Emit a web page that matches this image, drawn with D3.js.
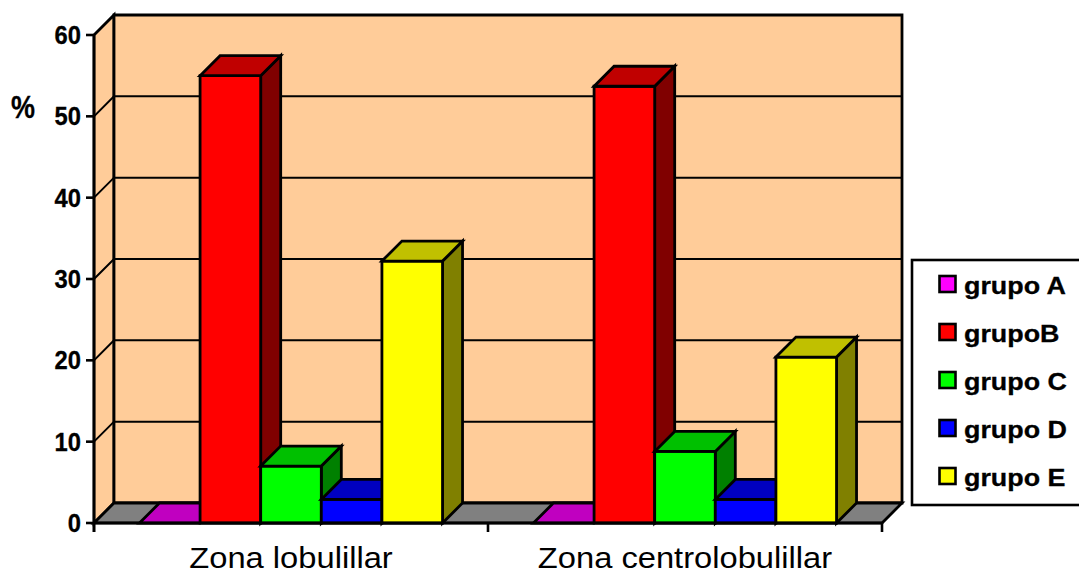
<!DOCTYPE html>
<html><head><meta charset="utf-8">
<script src="https://cdn.jsdelivr.net/npm/d3@7"></script>
<style>html,body{margin:0;padding:0;background:#fff}svg{display:block;font-family:"Liberation Sans",Arial,sans-serif}</style>
</head><body><svg id="c" width="1079" height="571"></svg>
<script>
const categories = ["Zona lobulillar", "Zona centrolobulillar"];
const seriesNames = ["grupo A", "grupoB", "grupo C", "grupo D", "grupo E"];
const seriesKeys = ["A", "B", "C", "D", "E"];
const valuesA = [0, 0];
const valuesB = [55, 53.7];
const valuesC = [7, 8.8];
const valuesD = [2.9, 2.9];
const valuesE = [32.2, 20.4];
const allValues = [valuesA, valuesB, valuesC, valuesD, valuesE];
const yTicks = [0, 10, 20, 30, 40, 50, 60];
const front = ["#ff00ff", "#ff0000", "#00ff00", "#0000ff", "#ffff00"];
const topC  = ["#c000c0", "#c00000", "#00c000", "#0000c0", "#c0c000"];
const sideC = ["#800080", "#800000", "#008000", "#000080", "#808000"];

const svg = d3.select("#c");
const d = 20;
const y = d3.scaleLinear().domain([0, 60]).range([523, 35]);
const x0 = d3.scaleBand().domain(categories).range([94, 882]);
const x1 = d3.scaleBand().domain(seriesKeys).range([0, x0.bandwidth()]).paddingOuter(0.75).paddingInner(0);
const poly = (g, pts, fill, sw) => g.append("path")
  .attr("d", "M" + pts.map(p => p.join(",")).join("L") + "Z")
  .attr("fill", fill).attr("stroke", "#000").attr("stroke-width", sw).attr("stroke-linejoin", "miter");
const L = x0.range()[0], R = x0.range()[1], Y0 = y(0), YT = y(60);

const label = (g, str, px, py, size, bold, sx, anchor) => g.append("text")
  .attr("transform", `translate(${px},${py}) scale(${sx},1)`)
  .attr("text-anchor", anchor).attr("font-size", size)
  .attr("font-weight", bold ? "bold" : "normal")
  .attr("stroke", bold ? "#000" : "none").attr("stroke-width", bold ? 0.3 : 0)
  .text(str);

// walls
const w = svg.append("g");
poly(w, [[L, YT], [L + d, YT - d], [L + d, Y0 - d], [L, Y0]], "#ffcc99", 2.8);
poly(w, [[L + d, YT - d], [R + d, YT - d], [R + d, Y0 - d], [L + d, Y0 - d]], "#ffcc99", 2.8);
poly(w, [[L, Y0], [L + d, Y0 - d], [R + d, Y0 - d], [R, Y0]], "#808080", 2.8);

// gridlines
const grid = svg.append("g").attr("fill", "none").attr("stroke", "#000").attr("stroke-width", 2);
yTicks.slice(1, -1).forEach(t => {
  grid.append("path").attr("d", `M${L},${y(t)}L${L + d},${y(t) - d}L${R + d},${y(t) - d}`);
});

// bars
const bars = svg.append("g");
categories.forEach((cat, ci) => {
  seriesKeys.forEach((k, si) => {
    const v = allValues[si][ci];
    const xa = x0(cat) + x1(k), xb = xa + x1.bandwidth();
    const yt = y(v), yb = y(0);
    const g = bars.append("g");
    if (v > 0) {
      poly(g, [[xb, yt], [xb + d, yt - d], [xb + d, yb - d], [xb, yb]], sideC[si], 2.8);
      poly(g, [[xa, yb], [xb, yb], [xb, yt], [xa, yt]], front[si], 2.8);
    }
    poly(g, [[xa, yt], [xa + d, yt - d], [xb + d, yt - d], [xb, yt]], topC[si], 2.8);
  });
});

// axes
const ax = svg.append("g").attr("stroke", "#000").attr("stroke-width", 2.6);
ax.append("line").attr("x1", L).attr("x2", L).attr("y1", YT).attr("y2", Y0 + 9);
ax.append("line").attr("x1", L).attr("x2", R).attr("y1", Y0).attr("y2", Y0);
yTicks.forEach(t => ax.append("line").attr("x1", L - 8).attr("x2", L).attr("y1", y(t)).attr("y2", y(t)));
[...categories.map(c => x0(c)), R].forEach(px => ax.append("line").attr("x1", px).attr("x2", px).attr("y1", Y0).attr("y2", Y0 + 9));

const tickG = svg.append("g");
yTicks.forEach(t => label(tickG, t, L - 13, y(t) + 9, 25, true, 0.95, "end"));
const catG = svg.append("g");
categories.forEach(c => label(catG, c, x0(c) + x0.bandwidth() / 2, 568, 30, false, 1.09, "middle"));
label(svg.append("g"), "%", 23, 118, 31, true, 0.87, "middle");

// legend
const lg = svg.append("g");
lg.append("rect").attr("x", 912).attr("y", 260).attr("width", 180).attr("height", 245)
  .attr("fill", "#fff").attr("stroke", "#000").attr("stroke-width", 2.6);
const ly = d3.scalePoint().domain(seriesNames).range([285, 477]);
seriesNames.forEach((n, i) => {
  lg.append("rect").attr("x", 939.5).attr("y", ly(n) - 9).attr("width", 16).attr("height", 16)
    .attr("fill", front[i]).attr("stroke", "#000").attr("stroke-width", 2.6);
  label(lg, n, 964, ly(n) + 9, 24, true, 1.12, "start");
});
</script></body></html>
